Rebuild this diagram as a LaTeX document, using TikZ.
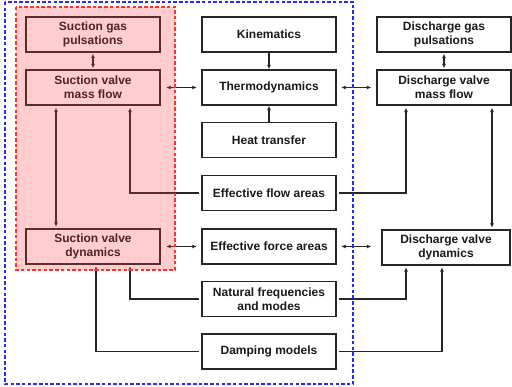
\documentclass[tikz,border=0pt]{standalone}
\usepackage{fontspec}
\setmainfont{Liberation Sans}
\usetikzlibrary{arrows.meta,calc}
\definecolor{frameblue}{RGB}{40,40,255}
\definecolor{framered}{RGB}{255,50,50}
\definecolor{overlayred}{RGB}{255,60,60}
\begin{document}
\begin{tikzpicture}[x=1pt,y=-1pt,
  box/.style={draw=black!85,line width=1.4pt,minimum width=134pt,minimum height=35pt,
    inner sep=0pt,align=center,text=black!90,
    font=\fontsize{12pt}{14pt}\selectfont\bfseries},
  conn/.style={draw=black!85,line width=1.5pt},
  arr/.style={conn,-{Latex[length=4.5pt,width=4pt]}},
  dbl/.style={conn,{Latex[length=4.5pt,width=4pt]}-{Latex[length=4.5pt,width=4pt]}},
  bluebox/.style={draw=frameblue,line width=1.4pt,dash pattern=on 3.5pt off 2.2pt},
  redbox/.style={draw=framered,line width=1.4pt,dash pattern=on 3.5pt off 2.2pt}]
\useasboundingbox (0,0) rectangle (512,387);
% left column
\node[box] (sgp) at (93,34.5) {Suction gas\\pulsations};
\node[box] (svmf) at (93,87.5) {Suction valve\\mass flow};
\node[box] (svd) at (93,246.5) {Suction valve\\dynamics};
% middle column
\node[box] (kin) at (269,34.5) {Kinematics};
\node[box] (thermo) at (269,87.5) {Thermodynamics};
\node[box] (heat) at (269,140) {Heat transfer};
\node[box] (efa) at (269,193) {Effective flow areas};
\node[box] (ffa) at (269,246.5) {Effective force areas};
\node[box] (nat) at (269,299) {Natural frequencies\\and modes};
\node[box] (damp) at (269,351.5) {Damping models};
% right column
\node[box] (dgp) at (444,34.5) {Discharge gas\\pulsations};
\node[box] (dvmf) at (444,87.5) {Discharge valve\\mass flow};
\node[box,minimum width=128pt] (dvd) at (446,247.5) {Discharge valve\\dynamics};
% connectors
\draw[arr] (kin) -- (thermo);
\draw[arr] (heat) -- (thermo);
\draw[dbl,shorten <=1pt,shorten >=1pt] (sgp) -- (svmf);
\draw[dbl,shorten <=1pt,shorten >=1pt] (dgp) -- (dvmf);
\draw[dbl,shorten <=5.5pt,shorten >=4.5pt] (svmf) -- (thermo);
\draw[dbl,shorten <=4.5pt,shorten >=5pt] (thermo) -- (dvmf);
\draw[dbl,shorten <=5.5pt,shorten >=4.5pt] (svd) -- (ffa);
\draw[dbl,shorten <=4.5pt,shorten >=10pt] (ffa.east) -- (ffa.east -| dvd.west);
\draw[dbl,shorten <=2pt,shorten >=1.5pt] ([xshift=-37pt]svmf.south) -- ([xshift=-37pt]svd.north);
\draw[dbl,shorten <=2pt,shorten >=1.5pt] ([xshift=48pt]dvmf.south) -- ([xshift=48pt]dvmf.south |- dvd.north);
\draw[arr,shorten <=2pt,shorten >=2pt] (efa.west) -| ([xshift=37pt]svmf.south);
\draw[arr,shorten <=2pt,shorten >=2pt] (efa.east) -| ([xshift=-38pt]dvmf.south);
\draw[arr,shorten <=2pt,shorten >=1.5pt] (nat.west) -| ([xshift=37pt]svd.south);
\draw[arr,shorten <=2pt,shorten >=1.5pt] (nat.east) -| ([xshift=-40pt]dvd.south);
\draw[arr,shorten <=2pt,shorten >=1.5pt] (damp.west) -| ([xshift=3pt]svd.south);
\draw[arr,shorten <=2pt,shorten >=1.5pt] (damp.east) -| ([xshift=-4pt]dvd.south);
% group frames
\coordinate (rtl) at (16,7);
\coordinate (rbr) at (175,270);
\coordinate (btl) at (5,2);
\coordinate (bbr) at (353,384);
\fill[overlayred,fill opacity=0.26] (rtl) rectangle (rbr);
\draw[redbox] (rtl) rectangle (rbr);
\draw[bluebox] (btl) rectangle (bbr);
\end{tikzpicture}
\end{document}
